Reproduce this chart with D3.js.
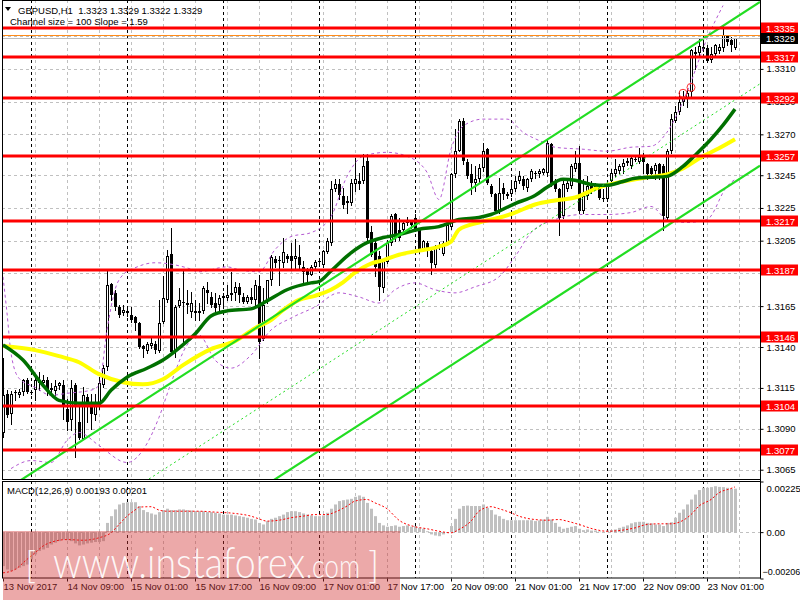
<!DOCTYPE html>
<html><head><meta charset="utf-8">
<script src="https://cdn.jsdelivr.net/npm/d3@7"></script>
<style>
body{margin:0;background:#fff}
svg{display:block}
text{font-family:"Liberation Sans",Arial,sans-serif}
</style></head>
<body><svg id="c" width="800" height="600"></svg>
<script>
// ---------------- DATA ----------------
const symbolTitle = "GBPUSD,H1  1.3323 1.3329 1.3322 1.3329";
const channelTitle = "Channel size = 100 Slope = 1.59";
const macdTitle = "MACD(12,26,9) 0.00193 0.00201";

const timeTickBars = [0,16,32,48,64,80,96,112,128,144,160,176];
const timeTickLabels = ["13 Nov 2017","14 Nov 09:00","15 Nov 01:00","15 Nov 17:00","16 Nov 09:00","17 Nov 01:00","17 Nov 17:00","20 Nov 09:00","21 Nov 01:00","21 Nov 17:00","22 Nov 09:00","23 Nov 01:00"];
const priceTicks = [1.3330,1.3310,1.3290,1.3270,1.3245,1.3225,1.3205,1.3185,1.3165,1.3140,1.3115,1.3090,1.3065];
const hiddenPriceTicks = [1.3330,1.3185];
const macdTicks = [0.00225,0.00,-0.00206];

const open = [1.30872,1.31115,1.30992,1.31117,1.31105,1.31125,1.31197,1.31125,1.31136,1.31186,1.31180,1.31201,1.31136,1.31130,1.31160,1.31166,1.31023,1.30951,1.31166,1.30941,
1.30839,1.31094,1.31064,1.30982,1.31043,1.31166,1.31279,1.31786,1.31733,1.31643,1.31606,1.31622,1.31596,1.31585,1.31549,1.31406,1.31377,1.31406,1.31418,1.31377,
1.31555,1.31688,1.31970,1.31371,1.31653,1.31678,1.31657,1.31616,1.31606,1.31606,1.31622,1.31750,1.31708,1.31671,1.31657,1.31698,1.31698,1.31719,1.31729,1.31764,
1.31708,1.31678,1.31704,1.31688,1.31770,1.31447,1.31688,1.31811,1.31938,1.31929,1.31913,1.31958,1.31958,1.31938,1.31950,1.31892,1.31872,1.31842,1.31889,1.31917,
1.31903,1.31978,1.32036,1.32363,1.32394,1.32322,1.32291,1.32282,1.32394,1.32414,1.32414,1.32535,1.32105,1.32036,1.31958,1.31762,1.31921,1.32036,1.32210,1.32118,
1.32118,1.32155,1.32167,1.32189,1.32118,1.31995,1.32036,1.31984,1.31903,1.32015,1.31970,1.32036,1.32133,1.32455,1.32599,1.32783,1.32531,1.32455,1.32404,1.32425,
1.32496,1.32609,1.32384,1.32333,1.32230,1.32374,1.32333,1.32333,1.32363,1.32414,1.32425,1.32374,1.32425,1.32466,1.32455,1.32466,1.32466,1.32640,1.32414,1.32363,
1.32200,1.32363,1.32384,1.32486,1.32527,1.32230,1.32322,1.32394,1.32374,1.32384,1.32312,1.32305,1.32414,1.32455,1.32476,1.32503,1.32527,1.32506,1.32547,1.32531,
1.32568,1.32517,1.32496,1.32476,1.32517,1.32506,1.32189,1.32599,1.32783,1.32834,1.32896,1.32922,1.32957,1.33202,1.33196,1.33223,1.33229,1.33156,1.33192,1.33212,
1.33227,1.33298,1.33278,1.33230];
const high = [1.31332,1.31136,1.31130,1.31136,1.31146,1.31207,1.31209,1.31140,1.31238,1.31248,1.31228,1.31217,1.31177,1.31197,1.31186,1.31197,1.31084,1.31197,1.31177,1.31064,
1.31156,1.31115,1.31115,1.31115,1.31217,1.31289,1.31862,1.31794,1.31750,1.31657,1.31657,1.31635,1.31647,1.31590,1.31555,1.31412,1.31432,1.31453,1.31435,1.31688,
1.31831,1.31995,1.32128,1.31657,1.31760,1.31862,1.31750,1.31739,1.31688,1.31668,1.31770,1.31800,1.31739,1.31729,1.31719,1.31729,1.31780,1.31856,1.31800,1.31794,
1.31729,1.31719,1.31760,1.31811,1.31842,1.31760,1.31811,1.31964,1.31954,1.31954,1.32067,1.31970,1.32036,1.32061,1.32026,1.31923,1.31882,1.31903,1.31934,1.31935,
1.31995,1.32067,1.32414,1.32425,1.32429,1.32374,1.32322,1.32425,1.32558,1.32466,1.32578,1.32578,1.32138,1.32067,1.31984,1.31934,1.32056,1.32210,1.32220,1.32190,
1.32179,1.32196,1.32179,1.32210,1.32128,1.32056,1.32046,1.31995,1.32026,1.32040,1.32046,1.32159,1.32466,1.32732,1.32793,1.32800,1.32547,1.32517,1.32506,1.32517,
1.32650,1.32619,1.32394,1.32343,1.32435,1.32404,1.32350,1.32414,1.32445,1.32476,1.32445,1.32435,1.32486,1.32476,1.32490,1.32496,1.32670,1.32650,1.32425,1.32374,
1.32414,1.32435,1.32517,1.32599,1.32629,1.32425,1.32445,1.32414,1.32400,1.32394,1.32363,1.32404,1.32486,1.32547,1.32517,1.32547,1.32555,1.32568,1.32560,1.32619,
1.32588,1.32527,1.32506,1.32527,1.32527,1.32517,1.32609,1.32824,1.32875,1.32967,1.32967,1.32977,1.33223,1.33233,1.33284,1.33274,1.33243,1.33233,1.33253,1.33250,
1.33366,1.33310,1.33294,1.33290];
const low = [1.30847,1.30972,1.30931,1.31074,1.31094,1.31105,1.31117,1.31110,1.31074,1.31136,1.31156,1.31105,1.31115,1.31105,1.31146,1.30962,1.30890,1.30890,1.30726,1.30839,
1.30839,1.30941,1.30900,1.30951,1.31023,1.31156,1.31258,1.31688,1.31627,1.31585,1.31596,1.31590,1.31555,1.31504,1.31391,1.31340,1.31361,1.31391,1.31365,1.31371,
1.31545,1.31678,1.31361,1.31340,1.31647,1.31422,1.31606,1.31585,1.31565,1.31565,1.31606,1.31668,1.31647,1.31606,1.31627,1.31647,1.31688,1.31688,1.31688,1.31678,
1.31668,1.31668,1.31668,1.31657,1.31330,1.31443,1.31670,1.31780,1.31892,1.31780,1.31892,1.31920,1.31872,1.31872,1.31872,1.31791,1.31800,1.31842,1.31872,1.31908,
1.31892,1.31975,1.32026,1.32353,1.32302,1.32251,1.32220,1.32271,1.32351,1.32363,1.32404,1.32044,1.31954,1.31831,1.31688,1.31739,1.31913,1.32026,1.32046,1.32056,
1.32107,1.32148,1.32130,1.32107,1.31975,1.31984,1.31954,1.31848,1.31892,1.32000,1.31964,1.32026,1.32122,1.32437,1.32599,1.32517,1.32435,1.32333,1.32353,1.32404,
1.32476,1.32394,1.32322,1.32220,1.32220,1.32302,1.32310,1.32322,1.32353,1.32404,1.32363,1.32353,1.32414,1.32435,1.32440,1.32455,1.32445,1.32384,1.32353,1.32087,
1.32189,1.32353,1.32374,1.32476,1.32220,1.32220,1.32302,1.32343,1.32360,1.32302,1.32291,1.32290,1.32404,1.32445,1.32466,1.32466,1.32510,1.32496,1.32535,1.32527,
1.32466,1.32425,1.32435,1.32425,1.32425,1.32118,1.32179,1.32588,1.32773,1.32824,1.32880,1.32865,1.32936,1.33100,1.33172,1.33212,1.33141,1.33141,1.33172,1.33200,
1.33212,1.33243,1.33212,1.33220];
const close = [1.31105,1.30982,1.31115,1.31125,1.31125,1.31201,1.31125,1.31123,1.31197,1.31177,1.31197,1.31136,1.31152,1.31160,1.31177,1.31033,1.30941,1.31152,1.31037,1.30845,
1.31105,1.31054,1.30992,1.31043,1.31177,1.31269,1.31780,1.31719,1.31643,1.31596,1.31627,1.31606,1.31565,1.31549,1.31401,1.31385,1.31418,1.31426,1.31381,1.31549,
1.31698,1.31958,1.31371,1.31647,1.31688,1.31668,1.31668,1.31671,1.31622,1.31622,1.31760,1.31729,1.31657,1.31637,1.31698,1.31712,1.31719,1.31733,1.31764,1.31719,
1.31678,1.31704,1.31688,1.31780,1.31432,1.31657,1.31811,1.31950,1.31913,1.31923,1.31981,1.31938,1.31923,1.31958,1.31903,1.31856,1.31842,1.31892,1.31919,1.31923,
1.31984,1.32046,1.32363,1.32394,1.32332,1.32271,1.32282,1.32404,1.32425,1.32399,1.32506,1.32069,1.31964,1.31892,1.31765,1.31923,1.32036,1.32202,1.32069,1.32067,
1.32159,1.32173,1.32145,1.32118,1.31995,1.32046,1.31984,1.31913,1.32015,1.32024,1.32036,1.32148,1.32455,1.32599,1.32783,1.32537,1.32445,1.32404,1.32430,1.32496,
1.32599,1.32404,1.32333,1.32230,1.32343,1.32333,1.32324,1.32363,1.32414,1.32445,1.32384,1.32425,1.32476,1.32455,1.32476,1.32486,1.32650,1.32404,1.32363,1.32189,
1.32394,1.32404,1.32506,1.32527,1.32230,1.32322,1.32384,1.32363,1.32384,1.32312,1.32305,1.32394,1.32466,1.32486,1.32506,1.32527,1.32540,1.32558,1.32550,1.32564,
1.32531,1.32455,1.32455,1.32511,1.32445,1.32200,1.32599,1.32793,1.32834,1.32896,1.32922,1.32951,1.33217,1.33192,1.33237,1.33233,1.33151,1.33192,1.33243,1.33233,
1.33310,1.33264,1.33243,1.33290];

// moving averages: [bar, price]
const maFast = [[0,1.31412],[5,1.31320],[10,1.31166],[14,1.31074],[19,1.31056],[24,1.31056],[27,1.31136],[31,1.31215],[36,1.31270],[40,1.31320],[44,1.31393],[48,1.31479],[52,1.31590],[56,1.31621],[62,1.31633],[66,1.31682],[71,1.31750],[77,1.31792],[79,1.31800],[82,1.31865],[87,1.31976],[91,1.32038],[95,1.32069],[99,1.32087],[104,1.32120],[109,1.32136],[114,1.32179],[119,1.32192],[122,1.32210],[128,1.32277],[133,1.32326],[136,1.32376],[140,1.32425],[143,1.32419],[147,1.32394],[151,1.32388],[155,1.32412],[158,1.32431],[162,1.32437],[166,1.32443],[170,1.32504],[173,1.32572],[177,1.32670],[180,1.32756],[183,1.32854]];
const maSlow = [[0,1.31406],[8,1.31381],[14,1.31344],[19,1.31307],[24,1.31234],[30,1.31185],[35,1.31172],[40,1.31203],[45,1.31289],[52,1.31387],[58,1.31436],[63,1.31515],[67,1.31565],[70,1.31625],[74,1.31688],[78,1.31713],[82,1.31750],[85,1.31795],[88,1.31854],[92,1.31910],[95,1.31930],[99,1.31964],[104,1.31989],[109,1.32014],[112,1.32044],[114,1.32118],[119,1.32161],[124,1.32190],[128,1.32222],[133,1.32271],[138,1.32296],[143,1.32314],[149,1.32376],[155,1.32412],[161,1.32437],[166,1.32455],[170,1.32492],[175,1.32566],[179,1.32615],[183,1.32670]];
// envelope bands: [bar, price]
const bandUpper = [[0,1.31829],[1,1.31608],[2,1.31363],[4,1.31209],[8,1.31154],[12,1.31105],[16,1.31117],[22,1.31136],[24,1.31166],[26,1.31504],[28,1.31750],[30,1.31842],[33,1.31884],[38,1.31915],[46,1.31884],[49,1.31860],[56,1.31890],[59,1.31872],[64,1.31860],[68,1.31995],[72,1.32075],[77,1.32099],[82,1.32197],[86,1.32443],[90,1.32566],[96,1.32590],[101,1.32566],[106,1.32468],[109,1.32302],[112,1.32609],[115,1.32750],[120,1.32793],[126,1.32793],[130,1.32713],[135,1.32652],[138,1.32621],[145,1.32609],[151,1.32597],[157,1.32621],[162,1.32627],[166,1.32713],[171,1.32959],[176,1.33284],[180,1.33487]];
const bandLower = [[2,1.30657],[7,1.30706],[12,1.30694],[16,1.30829],[19,1.30878],[24,1.30798],[31,1.30694],[36,1.30810],[39,1.30970],[42,1.31179],[46,1.31412],[49,1.31473],[53,1.31320],[57,1.31271],[62,1.31350],[67,1.31504],[72,1.31577],[78,1.31645],[84,1.31731],[89,1.31706],[94,1.31669],[98,1.31750],[103,1.31792],[108,1.31750],[113,1.31731],[118,1.31768],[124,1.31829],[128,1.31952],[132,1.32099],[138,1.32179],[145,1.32210],[151,1.32210],[157,1.32222],[162,1.32259],[166,1.32179],[171,1.32161],[176,1.32179],[181,1.32382],[183,1.32425]];
// regression channel (Channel size = 100)
const channelUpper = [[0,1.30516],[183,1.33410]];
const channelMiddle = [[0,1.30016],[183,1.32910]];
const channelLower = [[0,1.29516],[183,1.32410]];
// horizontal levels
const levels = [1.3335,1.3317,1.3292,1.3257,1.3217,1.3187,1.3146,1.3104,1.3077];
const bidPrice = 1.3329, askPrice = 1.3331;
const markers = [[170,1.32951],[172,1.32987]];

// MACD
const macdHist = [-0.00151,-0.00166,-0.00173,-0.00166,-0.00158,-0.00151,-0.00144,-0.00121,-0.00099,-0.00084,-0.00077,-0.00070,-0.00055,-0.00047,-0.00040,-0.00033,-0.00036,-0.00040,-0.00050,-0.00059,
-0.00055,-0.00050,-0.00047,-0.00044,-0.00044,-0.00040,0.00041,0.00071,0.00101,0.00123,0.00130,0.00133,0.00133,0.00133,0.00116,0.00098,0.00089,0.00083,0.00078,0.00089,
0.00098,0.00104,0.00098,0.00098,0.00101,0.00101,0.00098,0.00096,0.00093,0.00093,0.00093,0.00089,0.00089,0.00086,0.00083,0.00078,0.00078,0.00078,0.00074,0.00071,
0.00068,0.00064,0.00059,0.00056,0.00041,0.00034,0.00049,0.00059,0.00064,0.00071,0.00078,0.00089,0.00093,0.00093,0.00089,0.00083,0.00078,0.00074,0.00071,0.00071,
0.00074,0.00086,0.00104,0.00123,0.00138,0.00142,0.00145,0.00148,0.00157,0.00163,0.00157,0.00130,0.00104,0.00071,0.00041,0.00030,0.00024,0.00027,0.00030,0.00024,
0.00027,0.00030,0.00024,0.00027,0.00019,0.00015,0.00004,-0.00010,-0.00015,-0.00018,-0.00010,-0.00003,0.00027,0.00059,0.00104,0.00116,0.00118,0.00116,0.00116,0.00116,
0.00123,0.00108,0.00098,0.00078,0.00071,0.00059,0.00053,0.00053,0.00053,0.00053,0.00053,0.00053,0.00053,0.00049,0.00052,0.00056,0.00068,0.00056,0.00041,0.00024,
0.00015,0.00019,0.00024,0.00027,0.00015,0.00009,0.00012,0.00007,0.00007,0.00003,0.00001,0.00007,0.00009,0.00012,0.00019,0.00024,0.00030,0.00039,0.00044,0.00046,
0.00046,0.00041,0.00039,0.00034,0.00034,0.00027,0.00041,0.00044,0.00064,0.00086,0.00101,0.00123,0.00145,0.00167,0.00187,0.00197,0.00197,0.00200,0.00204,0.00201,
0.00200,0.00197,0.00193,0.00193];
const macdSignal = [[0,-0.00181],[3,-0.00166],[6,-0.00121],[8,-0.00092],[10,-0.00062],[13,-0.00040],[16,-0.00033],[20,-0.00036],[24,-0.00025],[27,-0.00003],[29,0.00034],[31,0.00071],[33,0.00098],[34,0.00111],[37,0.00113],[39,0.00098],[41,0.00093],[49,0.00093],[53,0.00089],[58,0.00083],[62,0.00071],[64,0.00059],[66,0.00049],[69,0.00053],[72,0.00064],[75,0.00071],[78,0.00078],[81,0.00078],[83,0.00089],[86,0.00116],[88,0.00138],[91,0.00145],[93,0.00130],[96,0.00104],[99,0.00053],[103,0.00024],[106,0.00015],[109,0.00004],[112,-0.00003],[114,0.00012],[117,0.00049],[119,0.00093],[122,0.00113],[124,0.00104],[127,0.00086],[129,0.00071],[133,0.00056],[136,0.00053],[139,0.00056],[141,0.00049],[144,0.00034],[148,0.00012],[151,0.00004],[154,0.00007],[158,0.00019],[161,0.00034],[164,0.00037],[167,0.00037],[169,0.00044],[172,0.00078],[174,0.00116],[177,0.00145],[179,0.00175],[182,0.00194],[183,0.00201]];

// ---------------- DRAW ----------------
const svg = d3.select('#c');
const PX0 = 2, PX1 = 760;
const x = d3.scaleLinear().domain([0,183]).range([3,735]);
const y = d3.scaleLinear().domain([1.305871,1.335211]).range([480,0]);
const ym = d3.scaleLinear().domain([-0.00206,0.00225]).range([578.5,481.5]);
const pr = v => Math.round(v)+0.5;
const FONT = '"Liberation Sans",Arial,sans-serif';

const defs = svg.append('defs');
defs.append('clipPath').attr('id','clipMain').append('rect').attr('x',PX0).attr('y',0).attr('width',PX1-PX0).attr('height',480);
defs.append('clipPath').attr('id','clipMacd').append('rect').attr('x',PX0).attr('y',481).attr('width',PX1-PX0).attr('height',97);

svg.append('rect').attr('width',800).attr('height',600).attr('fill','#fff');

const bLeft = x.invert(PX0), bRight = x.invert(PX1);
const gridBars = d3.range(8, bRight, 8);
const sepBars = d3.range(7, bRight, 24);

// grid
const gGrid = svg.append('g');
priceTicks.forEach(p=>{
  gGrid.append('line').attr('x1',PX0).attr('x2',PX1).attr('y1',pr(y(p))).attr('y2',pr(y(p)))
    .attr('stroke','#c0c0c0').attr('stroke-dasharray','3,3');
});
[[0,480],[481,578]].forEach(([a,b])=>{
  gridBars.forEach(bi=>{
    gGrid.append('line').attr('x1',pr(x(bi))).attr('x2',pr(x(bi))).attr('y1',a).attr('y2',b)
      .attr('stroke','#c0c0c0').attr('stroke-dasharray','3,3');
  });
});
gGrid.append('line').attr('x1',PX0).attr('x2',PX1).attr('y1',pr(ym(0))).attr('y2',pr(ym(0)))
  .attr('stroke','#c0c0c0').attr('stroke-dasharray','3,3');
[[0,480],[481,578]].forEach(([a,b])=>{
  sepBars.forEach(bi=>{
    gGrid.append('line').attr('x1',pr(x(bi))).attr('x2',pr(x(bi))).attr('y1',a).attr('y2',b)
      .attr('stroke','#000').attr('stroke-dasharray','3,3');
  });
});

// main plot layers
const gMain = svg.append('g').attr('clip-path','url(#clipMain)');

// candles
const candles = open.map((o,i)=>({i,o,h:high[i],l:low[i],c:close[i]}));
const gCandle = gMain.append('g');
candles.forEach(d=>{
  const cx = Math.round(x(d.i));
  gCandle.append('line').attr('x1',cx+0.5).attr('x2',cx+0.5)
    .attr('y1',Math.round(y(d.h))).attr('y2',Math.round(y(d.l))+1).attr('stroke','#000');
  const top = Math.round(y(Math.max(d.o,d.c))), bot = Math.round(y(Math.min(d.o,d.c)));
  const h = Math.max(bot-top,1);
  if (d.c >= d.o) {
    gCandle.append('rect').attr('x',cx-0.5).attr('y',top+0.5).attr('width',2).attr('height',Math.max(h-1,0.01))
      .attr('fill','#fff').attr('stroke','#000');
  } else {
    gCandle.append('rect').attr('x',cx-1).attr('y',top).attr('width',3).attr('height',h).attr('fill','#000');
  }
});

const lineP = d3.line().x(d=>x(d[0])).y(d=>y(d[1])).curve(d3.curveMonotoneX);
// bands
[bandUpper,bandLower].forEach(b=>{
  gMain.append('path').attr('d',lineP(b)).attr('fill','none').attr('stroke','#b45ad2')
    .attr('stroke-width',1).attr('stroke-dasharray','3,3');
});
// MAs
gMain.append('path').attr('d',lineP(maSlow)).attr('fill','none').attr('stroke','#ffff00').attr('stroke-width',4);
gMain.append('path').attr('d',lineP(maFast)).attr('fill','none').attr('stroke','#007000').attr('stroke-width',3.5);

// channel
function extend(ch){
  const [[b0,p0],[b1,p1]] = ch;
  const f = b => p0 + (p1-p0)*(b-b0)/(b1-b0);
  return [[bLeft,f(bLeft)],[bRight,f(bRight)]];
}
const lineS = d3.line().x(d=>x(d[0])).y(d=>y(d[1]));
gMain.append('path').attr('d',lineS(extend(channelUpper))).attr('stroke','#22dd22').attr('stroke-width',2.2).attr('fill','none');
gMain.append('path').attr('d',lineS(extend(channelLower))).attr('stroke','#22dd22').attr('stroke-width',2.2).attr('fill','none');
gMain.append('path').attr('d',lineS(extend(channelMiddle))).attr('stroke','#22dd22').attr('stroke-width',1).attr('stroke-dasharray','2,3').attr('fill','none');

// bid / ask
gMain.append('line').attr('x1',PX0).attr('x2',PX1).attr('y1',pr(y(askPrice))).attr('y2',pr(y(askPrice))).attr('stroke','#ff8c1a');
gMain.append('line').attr('x1',PX0).attr('x2',PX1).attr('y1',pr(y(bidPrice))).attr('y2',pr(y(bidPrice))).attr('stroke','#bdbdbd');

// levels
levels.forEach(p=>{
  gMain.append('line').attr('x1',PX0).attr('x2',PX1).attr('y1',Math.round(y(p))).attr('y2',Math.round(y(p)))
    .attr('stroke','#ff0000').attr('stroke-width',3);
});
// markers
markers.forEach(m=>{
  gMain.append('circle').attr('cx',x(m[0])).attr('cy',y(m[1])).attr('r',4).attr('fill','none').attr('stroke','#ff3030');
});

// MACD
const gM = svg.append('g').attr('clip-path','url(#clipMacd)');
macdHist.forEach((v,i)=>{
  const cx = Math.round(x(i));
  const y0 = ym(0), y1 = ym(v);
  gM.append('rect').attr('x',cx-1).attr('width',3).attr('y',Math.min(y0,y1)).attr('height',Math.max(Math.abs(y1-y0),0.5)).attr('fill','#c0c0c0');
});
gM.append('path').attr('d',d3.line().x(d=>x(d[0])).y(d=>ym(d[1])).curve(d3.curveMonotoneX)(macdSignal))
  .attr('fill','none').attr('stroke','#ff0000').attr('stroke-width',1).attr('stroke-dasharray','2,2');

// borders
svg.append('rect').attr('x',PX0+0.5).attr('y',0.5).attr('width',PX1-PX0).attr('height',479).attr('fill','none').attr('stroke','#000');
svg.append('rect').attr('x',PX0+0.5).attr('y',481.5).attr('width',PX1-PX0).attr('height',96.5).attr('fill','none').attr('stroke','#000');

// right price axis
const axR = svg.append('g').attr('transform',`translate(${PX1+0.5},0)`)
  .call(d3.axisRight(y).tickValues(priceTicks)
    .tickFormat(d=>hiddenPriceTicks.includes(d)?'':d3.format('.4f')(d)).tickSize(3).tickPadding(3));
axR.select('.domain').remove();
axR.selectAll('text').attr('font-size',9.5).attr('font-family',FONT).attr('fill','#000');
axR.selectAll('line').attr('stroke','#000');

// MACD axis
const axM = svg.append('g').attr('transform',`translate(${PX1+0.5},0)`)
  .call(d3.axisRight(ym).tickValues(macdTicks).tickFormat(d=>d===0?'0.00':d3.format('.5f')(d)).tickSize(3).tickPadding(3));
axM.select('.domain').remove();
axM.selectAll('text').attr('font-size',9.5).attr('font-family',FONT).attr('fill','#000');
axM.selectAll('.tick').filter(d=>d===0.00225).select('text').attr('dy','1.1em');
axM.selectAll('.tick').filter(d=>d===-0.00206).select('text').attr('dy','-0.4em').attr('x',2).attr('font-size',9);
axM.selectAll('line').attr('stroke','#000');
svg.append('line').attr('x1',PX1+0.5).attr('x2',PX1+0.5).attr('y1',0).attr('y2',578.5).attr('stroke','#000');

// level labels
levels.forEach(p=>{
  const yy = Math.round(y(p));
  svg.append('rect').attr('x',PX1+1).attr('y',yy-5.5).attr('width',37).attr('height',11).attr('fill','#ff0000');
  svg.append('text').attr('x',PX1+6).attr('y',yy+3.5).attr('font-size',9.5).attr('fill','#fff').text(d3.format('.4f')(p));
});
{
  const yy = Math.round(y(bidPrice));
  svg.append('rect').attr('x',PX1+1).attr('y',yy-5).attr('width',37).attr('height',11).attr('fill','#000');
  svg.append('text').attr('x',PX1+6).attr('y',yy+4).attr('font-size',9.5).attr('fill','#fff').text(d3.format('.4f')(bidPrice));
}

// time axis
const axB = svg.append('g').attr('transform','translate(0,578.5)')
  .call(d3.axisBottom(x).tickValues(timeTickBars).tickFormat((d,i)=>timeTickLabels[i]).tickSize(3).tickPadding(2));
axB.select('.domain').remove();
axB.selectAll('text').attr('text-anchor','start').attr('x',0).attr('font-size',9.5)
  .attr('font-family',FONT).attr('fill','#000');
axB.selectAll('line').attr('stroke','#000');

// titles
svg.append('path').attr('d','M5,7 L11,7 L8,11 Z').attr('fill','#000');
svg.append('text').attr('x',18).attr('y',13.5).attr('font-size',9.5).attr('xml:space','preserve').style('white-space','pre').text(symbolTitle);
svg.append('text').attr('x',10).attr('y',25).attr('font-size',9.5).text(channelTitle);
svg.append('text').attr('x',7).attr('y',494).attr('font-size',9.5).text(macdTitle);

// watermark
svg.append('rect').attr('x',3).attr('y',531).attr('width',397).attr('height',69).attr('fill','rgb(210,50,50)').attr('fill-opacity',0.42);
const wm = svg.append('text').attr('y',578).attr('fill','#fff').attr('fill-opacity',0.92)
  .style('font-family','Lato,"Open Sans","Liberation Sans",sans-serif').style('font-weight',300);
wm.append('tspan').attr('x',25).attr('font-size',38).text('[');
wm.append('tspan').attr('x',53).attr('font-size',44).attr('textLength',252).attr('lengthAdjust','spacingAndGlyphs').text('www.instaforex');
wm.append('tspan').attr('x',306).attr('font-size',33).attr('textLength',54).attr('lengthAdjust','spacingAndGlyphs').text('.com');
wm.append('tspan').attr('x',368).attr('font-size',38).text(']');
</script></body></html>
